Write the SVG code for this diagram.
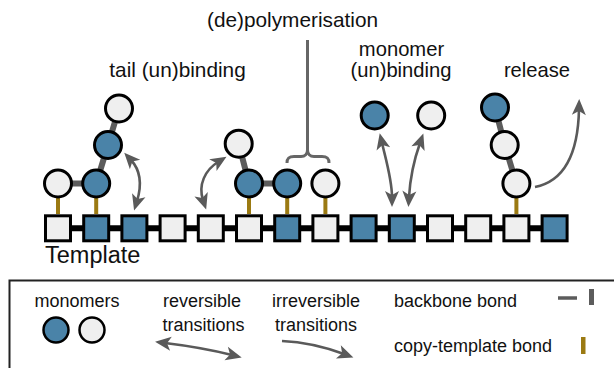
<svg xmlns="http://www.w3.org/2000/svg" width="614" height="368" viewBox="0 0 614 368">
<defs>
<style>
.t{font-family:"Liberation Sans",Arial,sans-serif;fill:#111;}
.lab{font-size:20.8px;text-anchor:middle;}
.lab2{font-size:20.2px;text-anchor:middle;}
.leg{font-size:18px;}
.sq{stroke:#000;stroke-width:3;}
.c{stroke:#000;stroke-width:3;}
.B{fill:#4a83a8;}
.L{fill:#efefef;}
.gb{stroke:#9b7a12;stroke-width:4;}
.bb{stroke:#5c5c5c;stroke-width:6;}
.arr{fill:none;stroke:#5a5a5a;stroke-width:2.6;}
</style>
<marker id="ah" viewBox="-8 -8 24 16" refX="0" refY="0" markerWidth="24" markerHeight="16" markerUnits="userSpaceOnUse" orient="auto-start-reverse">
<path d="M-6,-7 L10,0 L-6,7 L-2,0 Z" fill="#5a5a5a"/>
</marker>
</defs>
<rect width="614" height="368" fill="#fff"/>

<g id="template">
<line x1="58" y1="228.3" x2="555" y2="228.3" stroke="#000" stroke-width="6"/>
<rect class="sq L" x="45.5" y="215.8" width="25" height="25"/>
<rect class="sq B" x="83.7" y="215.8" width="25" height="25"/>
<rect class="sq B" x="121.9" y="215.8" width="25" height="25"/>
<rect class="sq L" x="160.1" y="215.8" width="25" height="25"/>
<rect class="sq L" x="198.3" y="215.8" width="25" height="25"/>
<rect class="sq L" x="236.5" y="215.8" width="25" height="25"/>
<rect class="sq B" x="274.7" y="215.8" width="25" height="25"/>
<rect class="sq L" x="312.9" y="215.8" width="25" height="25"/>
<rect class="sq B" x="351.1" y="215.8" width="25" height="25"/>
<rect class="sq B" x="389.3" y="215.8" width="25" height="25"/>
<rect class="sq L" x="427.5" y="215.8" width="25" height="25"/>
<rect class="sq L" x="465.7" y="215.8" width="25" height="25"/>
<rect class="sq L" x="503.9" y="215.8" width="25" height="25"/>
<rect class="sq B" x="542.1" y="215.8" width="25" height="25"/>
<text class="t" x="45" y="262.5" font-size="23.5">Template</text>
</g>

<g id="bonds">
<line class="gb" x1="58" y1="197" x2="58" y2="214"/>
<line class="gb" x1="96.2" y1="197" x2="96.2" y2="214"/>
<line class="gb" x1="249" y1="197" x2="249" y2="214"/>
<line class="gb" x1="287.2" y1="197" x2="287.2" y2="214"/>
<line class="gb" x1="325.4" y1="197" x2="325.4" y2="214"/>
<line class="gb" x1="516.4" y1="197" x2="516.4" y2="214"/>
<polyline class="bb" fill="none" points="58,183.5 96.2,183.5 108,145 119,108.5"/>
<polyline class="bb" fill="none" points="287.2,183.5 249,183.5 238.7,143.7"/>
<polyline class="bb" fill="none" points="516.4,183.5 504.7,145 495,107.5"/>
</g>

<g id="tail-chain">
<circle class="c L" cx="58" cy="183.5" r="13.5"/>
<circle class="c B" cx="96.2" cy="183.5" r="13.5"/>
<circle class="c B" cx="108" cy="145" r="13.5"/>
<circle class="c L" cx="119" cy="108.5" r="13.5"/>
</g>
<g id="poly-chain">
<circle class="c B" cx="249" cy="183.5" r="13.5"/>
<circle class="c B" cx="287.2" cy="183.5" r="13.5"/>
<circle class="c L" cx="325.4" cy="183.5" r="13.5"/>
<circle class="c L" cx="238.7" cy="143.7" r="13.5"/>
</g>
<g id="free-monomers">
<circle class="c B" cx="374.7" cy="115.5" r="13.5"/>
<circle class="c L" cx="431.2" cy="115.5" r="13.5"/>
</g>
<g id="release-chain">
<circle class="c L" cx="516.4" cy="183.5" r="13.5"/>
<circle class="c L" cx="504.7" cy="145" r="13.5"/>
<circle class="c B" cx="495" cy="107.5" r="13.5"/>
</g>

<g id="brace">
<path d="M307.5,40 V150 M287,163 C287,158 289,156.5 294,156.5 H301 C305,156.5 307.5,154 307.5,150 C307.5,154 310,156.5 314,156.5 H322 C327,156.5 329,158 329,163" fill="none" stroke="#666" stroke-width="3"/>
</g>

<g id="connectors">
<path class="arr" d="M131,160 C142,172 141,188 137,201" marker-start="url(#ah)" marker-end="url(#ah)"/>
<path class="arr" d="M218,162 C205,170 198,185 203,200" marker-start="url(#ah)" marker-end="url(#ah)"/>
<path class="arr" d="M382,143 C386,160 392,180 392,197" marker-start="url(#ah)" marker-end="url(#ah)"/>
<path class="arr" d="M420,143 C414,160 410,180 409,197" marker-start="url(#ah)" marker-end="url(#ah)"/>
<path class="arr" d="M535,187 C560,182 578,160 579,109" marker-end="url(#ah)"/>
</g>

<g id="labels">
<text class="t lab" x="292.5" y="26.5">(de)polymerisation</text>
<text class="t lab" x="177.5" y="77">tail (un)binding</text>
<text class="t lab2" x="401.5" y="55.5">monomer</text>
<text class="t lab2" x="401" y="76.7">(un)binding</text>
<text class="t lab2" x="537" y="76.7">release</text>
</g>

<g id="legend">
<rect x="9.5" y="280.5" width="620" height="100" fill="none" stroke="#222" stroke-width="2"/>
<text class="t leg" x="77" y="307" text-anchor="middle">monomers</text>
<circle cx="56" cy="330" r="12.5" class="B" stroke="#000" stroke-width="2.5"/>
<circle cx="92" cy="330" r="12.5" class="L" stroke="#000" stroke-width="2.5"/>
<text class="t leg" x="202" y="307" text-anchor="middle">reversible</text>
<text class="t leg" x="203.5" y="331" text-anchor="middle">transitions</text>
<path class="arr" d="M165,343 C190,346 212,350 232,355" marker-start="url(#ah)" marker-end="url(#ah)"/>
<text class="t leg" x="316" y="307" text-anchor="middle">irreversible</text>
<text class="t leg" x="316" y="331" text-anchor="middle">transitions</text>
<path class="arr" d="M282,341 C305,342 325,347 344,354" marker-end="url(#ah)"/>
<text class="t leg" x="394" y="307">backbone bond</text>
<line x1="558" y1="298" x2="577" y2="298" stroke="#5c5c5c" stroke-width="3.5"/>
<rect x="589" y="289" width="5" height="16" fill="#5c5c5c"/>
<text class="t leg" x="394" y="352">copy-template bond</text>
<rect x="581" y="337" width="4.5" height="17" fill="#9b7a12"/>
</g>
</svg>
